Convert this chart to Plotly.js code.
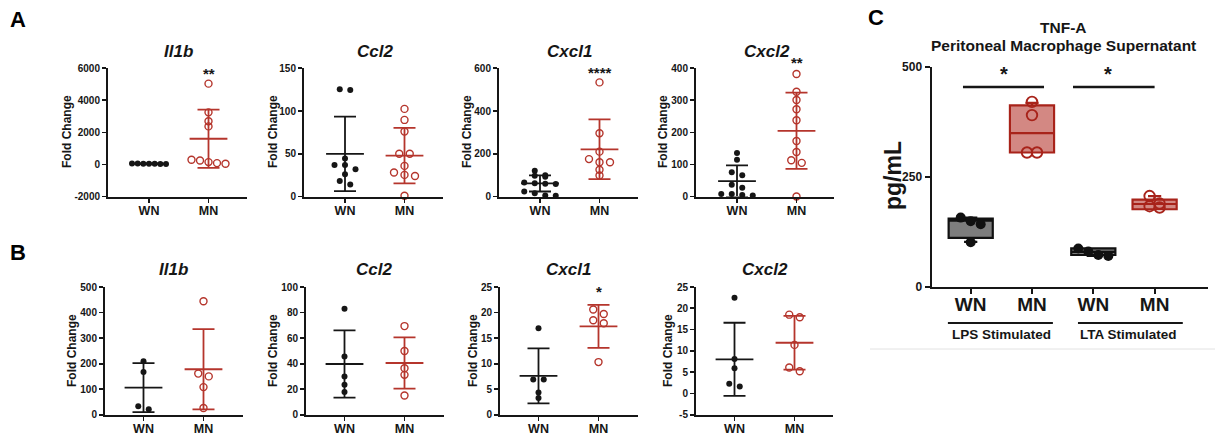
<!DOCTYPE html>
<html><head><meta charset="utf-8">
<script src="https://cdn.plot.ly/plotly-3.0.1.min.js"></script>
<style>html,body{margin:0;padding:0;background:#fff;} #chart{width:1215px;height:436px;}</style>
</head><body><div id="chart"></div>
<script>
// ================= DATA =================
const groups = ['WN', 'MN'];
const genes = ['Il1b', 'Ccl2', 'Cxcl1', 'Cxcl2'];

// Panel A (fold change)
const A_Il1b_WN = [50, 40, 60, 45, 55, 35, 30];
const A_Il1b_MN = [5042, 3250, 2700, 2375, 290, 250, 146, 83, 42];
const A_Ccl2_WN = [125.5, 124.5, 44.5, 37, 37, 32, 26, 18, 14];
const A_Ccl2_MN = [102.5, 89.6, 76, 50, 50, 35.8, 28, 25.3, 24, 0.8];
const A_Cxcl1_WN = [121, 100, 97, 92, 65, 62, 60, 58, 23, 15, 5, 3];
const A_Cxcl1_MN = [534, 296, 210, 175, 160, 160, 125, 98];
const A_Cxcl2_WN = [136, 115, 76, 66, 37, 27, 8, 8, 5, 3];
const A_Cxcl2_MN = [382, 327, 301, 272, 238, 173, 139, 113, 105, 0];
const A_mean_WN = [45, 49.9, 61, 48];
const A_sd_WN   = [20, 43.5, 37.5, 49];
const A_mean_MN = [1604, 47.9, 221, 205];
const A_sd_MN   = [1820, 32.5, 140, 119];
const A_stars   = ['**', '', '****', '**'];

// Panel B (fold change)
const B_Il1b_WN = [209, 167, 33, 21];
const B_Il1b_MN = [444, 161, 150, 108, 26];
const B_Ccl2_WN = [83, 45.5, 30, 23.4, 17.7];
const B_Ccl2_MN = [69.4, 49.9, 36.4, 31.2, 15];
const B_Cxcl1_WN = [16.9, 6.9, 6.9, 4.35, 3.25];
const B_Cxcl1_MN = [20.6, 19.7, 18.5, 17.9, 10.3];
const B_Cxcl2_WN = [22.5, 8.1, 5.9, 2.3, 1.6];
const B_Cxcl2_MN = [18.5, 17.9, 11.4, 6.1, 5.2];
const B_mean_WN = [106, 39.7, 7.6, 8.0];
const B_sd_WN   = [96, 26.3, 5.4, 8.6];
const B_mean_MN = [178, 40.5, 17.3, 11.9];
const B_sd_MN   = [157, 20.1, 4.2, 6.3];
const B_stars   = ['', '', '*', ''];

// y-axis tick settings (range, step)
const A_yrange = [[-2000, 6000], [0, 150], [0, 600], [0, 400]];
const A_ystep  = [2000, 50, 200, 100];
const B_yrange = [[0, 500], [0, 100], [0, 25], [-5, 25]];
const B_ystep  = [100, 20, 5, 5];

// Panel C: TNF-A (pg/mL)
const C_cats = ['WN', 'MN', 'WN', 'MN'];
const C_stim = ['LPS Stimulated', 'LTA Stimulated'];
const C_LPS_WN = [157, 149, 142, 101];
const C_LPS_MN = [420, 390, 305, 305];
const C_LTA_WN = [87, 80, 72, 70];
const C_LTA_MN = [206, 189, 183, 180];
const C_q1     = [111, 305, 72, 176];
const C_median = [150, 349, 79, 188];
const C_q3     = [155, 412, 87, 198];
const C_lo     = [102, 305, 70, 176];
const C_hi     = [157, 418, 87, 206];
const C_yticks = [0, 250, 500];

// ================= LAYOUT HELPERS =================
const W = 1215, H = 436;
const FONT = 'Liberation Sans, Arial, Helvetica, sans-serif';
const INK = '#161616';
const RED = '#b5352c';
const px = x => x / W;
const py = y => 1 - y / H;

function swarm(vals, pxPerUnitY, spacing, T, maxW) {
  const idx = vals.map((v, i) => i).sort((a, b) => vals[b] - vals[a]);
  const off = new Array(vals.length).fill(0);
  let row = [], start = null;
  const flush = () => {
    const n = row.length;
    let s = spacing;
    if (n > 1 && (n - 1) * s > maxW) s = maxW / (n - 1);
    row.forEach((k, j) => { off[k] = (j - (n - 1) / 2) * s; });
  };
  idx.forEach(k => {
    const y = vals[k] * pxPerUnitY;
    if (start === null || start - y > T) { if (row.length) flush(); row = [k]; start = y; }
    else row.push(k);
  });
  if (row.length) flush();
  return off;
}
function tickList(r, step) {
  const out = [];
  for (let v = r[0]; v <= r[1] + 1e-9; v += step) out.push(v);
  return out;
}

const traces = [];
const layout = {
  width: W, height: H, margin: {l: 0, r: 0, t: 0, b: 0},
  paper_bgcolor: '#fff', plot_bgcolor: 'rgba(0,0,0,0)',
  showlegend: false, font: {family: FONT, color: INK},
  annotations: [], shapes: []
};

const rows = [
  {data: [[A_Il1b_WN, A_Il1b_MN], [A_Ccl2_WN, A_Ccl2_MN], [A_Cxcl1_WN, A_Cxcl1_MN], [A_Cxcl2_WN, A_Cxcl2_MN]],
   mWN: A_mean_WN, sWN: A_sd_WN, mMN: A_mean_MN, sMN: A_sd_MN, stars: A_stars,
   yr: A_yrange, ys: A_ystep,
   xs: [[108, 247], [304, 443], [499, 638], [696, 834]], y: [68.3, 196.5],
   wnOff: 41, sep: 59.5, titleY: 52, ytX: [67, 273, 467, 663], ytY: 132,
   starY: [73, 0, 72, 62]},
  {data: [[B_Il1b_WN, B_Il1b_MN], [B_Ccl2_WN, B_Ccl2_MN], [B_Cxcl1_WN, B_Cxcl1_MN], [B_Cxcl2_WN, B_Cxcl2_MN]],
   mWN: B_mean_WN, sWN: B_sd_WN, mMN: B_mean_MN, sMN: B_sd_MN, stars: B_stars,
   yr: B_yrange, ys: B_ystep,
   xs: [[105, 243], [306, 444], [500, 638], [696, 833]], y: [287, 414.7],
   wnOff: 38.5, sep: 60, titleY: 269, ytX: [72, 273, 473, 668], ytY: 351,
   starY: [0, 0, 291, 0]}
];

let ax = 0;
rows.forEach((R) => {
  for (let g = 0; g < 4; g++) {
    ax++;
    const xn = 'x' + (ax === 1 ? '' : ax), yn = 'y' + (ax === 1 ? '' : ax);
    const xk = 'xaxis' + (ax === 1 ? '' : ax), yk = 'yaxis' + (ax === 1 ? '' : ax);
    const [x0, x1] = R.xs[g];
    const len = x1 - x0;
    const xr = [1 - R.wnOff / R.sep, 1 + (len - R.wnOff) / R.sep];
    const yr = R.yr[g];
    const pxY = (R.y[1] - R.y[0]) / (yr[1] - yr[0]);
    const tv = tickList(yr, R.ys[g]);
    layout[xk] = {
      domain: [px(x0), px(x1)], range: xr, anchor: yn, fixedrange: true,
      tickmode: 'array', tickvals: [1, 2], ticktext: groups, ticklabelstandoff: -3,
      showline: true, linewidth: 2, linecolor: INK, ticks: 'outside', ticklen: 4, tickwidth: 1.8,
      tickcolor: INK, showgrid: false, zeroline: false,
      tickfont: {family: FONT, size: 12.5, weight: 'bold', color: INK}
    };
    layout[yk] = {
      domain: [py(R.y[1]), py(R.y[0])], range: yr, anchor: xn, fixedrange: true,
      tickmode: 'array', tickvals: tv, ticktext: tv.map(v => String(v)),
      showline: true, linewidth: 2, linecolor: INK, ticks: 'outside', ticklen: 4, tickwidth: 1.8,
      tickcolor: INK, showgrid: false, zeroline: false,
      tickfont: {family: FONT, size: 10, weight: 'bold', color: INK}
    };
    const [wn, mn] = R.data[g];
    [wn, mn].forEach((vals, k) => {
      const off = swarm(vals, pxY, 10.5, 5, 34);
      traces.push({
        type: 'scatter', mode: 'markers', xaxis: xn, yaxis: yn, cliponaxis: false,
        x: off.map(o => (k + 1) + o / R.sep), y: vals,
        marker: k === 0 ? {symbol: 'circle', size: 6, color: INK}
                        : {symbol: 'circle-open', size: 7, color: RED, line: {width: 1.4}},
        hoverinfo: 'y'
      });
    });
    [[R.mWN[g], R.sWN[g], INK, 1], [R.mMN[g], R.sMN[g], RED, 2]].forEach(([m, s, c, xx]) => {
      traces.push({
        type: 'scatter', mode: 'markers', xaxis: xn, yaxis: yn, cliponaxis: false,
        x: [xx], y: [m],
        marker: {symbol: 'line-ew', size: 27, line: {width: 1.8, color: c}},
        error_y: {type: 'data', array: [s], visible: true, color: c, thickness: 1.8, width: 11},
        hoverinfo: 'y'
      });
    });
    layout.annotations.push({
      xref: xn, yref: 'paper', x: 1.5, y: py(R.titleY), xanchor: 'center', yanchor: 'middle',
      text: '<b><i>' + genes[g] + '</i></b>', showarrow: false, font: {family: FONT, size: 17, color: INK}
    });
    layout.annotations.push({
      xref: 'paper', yref: 'paper', x: px(R.ytX[g]), y: py(R.ytY), textangle: -90,
      xanchor: 'center', yanchor: 'middle', text: '<b>Fold Change</b>', showarrow: false,
      font: {family: FONT, size: 12, color: INK}
    });
    if (R.stars[g]) {
      layout.annotations.push({
        xref: xn, yref: 'paper', x: 2, y: py(R.starY[g]), xanchor: 'center', yanchor: 'middle',
        text: '<b>' + R.stars[g] + '</b>', showarrow: false, font: {family: FONT, size: 15, color: INK}
      });
    }
  }
});

// ================= PANEL C =================
const cX = [931.7, 1208], cY = [66.7, 286.7];
const cSep = 61.3, cWN = 39;
layout.xaxis9 = {
  domain: [px(cX[0]), px(cX[1])], range: [-cWN / cSep, (cX[1] - cX[0] - cWN) / cSep], anchor: 'y9',
  tickmode: 'array', tickvals: [0, 1, 2, 3], ticktext: C_cats, fixedrange: true, ticklabelstandoff: -6,
  showline: true, linewidth: 2.2, linecolor: INK, ticks: 'outside', ticklen: 5, tickwidth: 2,
  tickcolor: INK, showgrid: false, zeroline: false,
  tickfont: {family: FONT, size: 19, weight: 'bold', color: INK}
};
layout.yaxis9 = {
  domain: [py(cY[1]), py(cY[0])], range: [0, 500], anchor: 'x9', fixedrange: true,
  tickmode: 'array', tickvals: C_yticks, ticktext: C_yticks.map(String),
  showline: true, linewidth: 2.2, linecolor: INK, ticks: 'outside', ticklen: 5, tickwidth: 2,
  tickcolor: INK, showgrid: false, zeroline: false,
  tickfont: {family: FONT, size: 12, weight: 'bold', color: INK}
};
const C_pts = [C_LPS_WN, C_LPS_MN, C_LTA_WN, C_LTA_MN];
C_pts.forEach((vals, i) => {
  const isWN = i % 2 === 0;
  traces.push({
    type: 'box', xaxis: 'x9', yaxis: 'y9', x: [i],
    q1: [C_q1[i]], median: [C_median[i]], q3: [C_q3[i]], lowerfence: [C_lo[i]], upperfence: [C_hi[i]],
    width: 0.72, whiskerwidth: 0.3, boxpoints: false,
    fillcolor: isWN ? '#7d7d7d' : 'rgba(190,80,72,0.68)',
    line: {color: isWN ? '#111' : '#a8231a', width: 2.2}, hoverinfo: 'y'
  });
});
C_pts.forEach((vals, i) => {
  const isWN = i % 2 === 0;
  const off = swarm(vals, 220 / 500, 10, 9, 40);
  traces.push({
    type: 'scatter', mode: 'markers', xaxis: 'x9', yaxis: 'y9', cliponaxis: false,
    x: off.map(o => i + o / cSep), y: vals,
    marker: isWN ? {symbol: 'circle', size: 10, color: '#111'}
                 : {symbol: 'circle-open', size: 10.5, color: '#a8231a', line: {width: 1.9}},
    hoverinfo: 'y'
  });
});
[[-0.126, 1.196, 0.543], [1.669, 3.0, 2.24]].forEach(([a, b, s]) => {
  layout.shapes.push({type: 'line', xref: 'x9', yref: 'y9', x0: a, x1: b, y0: 454, y1: 454,
    line: {color: INK, width: 2.5}});
  layout.annotations.push({xref: 'x9', yref: 'paper', x: s, y: py(74), xanchor: 'center', yanchor: 'middle',
    text: '<b>*</b>', showarrow: false, font: {family: FONT, size: 20, color: INK}});
});
[[-0.372, 1.341, 0.505], [1.75, 3.46, 2.57]].forEach(([a, b, c], k) => {
  layout.shapes.push({type: 'line', xref: 'x9', yref: 'paper', x0: a, x1: b, y0: py(323), y1: py(323),
    line: {color: INK, width: 2}});
  layout.annotations.push({xref: 'x9', yref: 'paper', x: c, y: py(334.5), xanchor: 'center', yanchor: 'middle',
    text: '<b>' + C_stim[k] + '</b>', showarrow: false, font: {family: FONT, size: 13.5, color: INK}});
});
layout.annotations.push(
  {xref: 'paper', yref: 'paper', x: px(1063), y: py(27), xanchor: 'center', yanchor: 'middle',
   text: '<b>TNF-A</b>', showarrow: false, font: {family: FONT, size: 15.5, color: INK}},
  {xref: 'paper', yref: 'paper', x: px(1063), y: py(45), xanchor: 'center', yanchor: 'middle',
   text: '<b>Peritoneal Macrophage Supernatant</b>', showarrow: false, font: {family: FONT, size: 15.5, color: INK}},
  {xref: 'paper', yref: 'paper', x: px(893), y: py(176), textangle: -90, xanchor: 'center', yanchor: 'middle',
   text: '<b>pg/mL</b>', showarrow: false, font: {family: FONT, size: 23, color: INK}},
  {xref: 'paper', yref: 'paper', x: px(18), y: py(19), xanchor: 'center', yanchor: 'middle',
   text: '<b>A</b>', showarrow: false, font: {family: FONT, size: 22, color: '#000'}},
  {xref: 'paper', yref: 'paper', x: px(18), y: py(252.5), xanchor: 'center', yanchor: 'middle',
   text: '<b>B</b>', showarrow: false, font: {family: FONT, size: 22, color: '#000'}},
  {xref: 'paper', yref: 'paper', x: px(876), y: py(17), xanchor: 'center', yanchor: 'middle',
   text: '<b>C</b>', showarrow: false, font: {family: FONT, size: 22, color: '#000'}}
);
layout.shapes.push({type: 'line', xref: 'paper', yref: 'paper', x0: px(870), x1: 1, y0: py(349), y1: py(349),
  line: {color: '#e2e2e2', width: 1}});

Plotly.newPlot('chart', traces, layout, {staticPlot: true, displayModeBar: false});
</script>
</body></html>
